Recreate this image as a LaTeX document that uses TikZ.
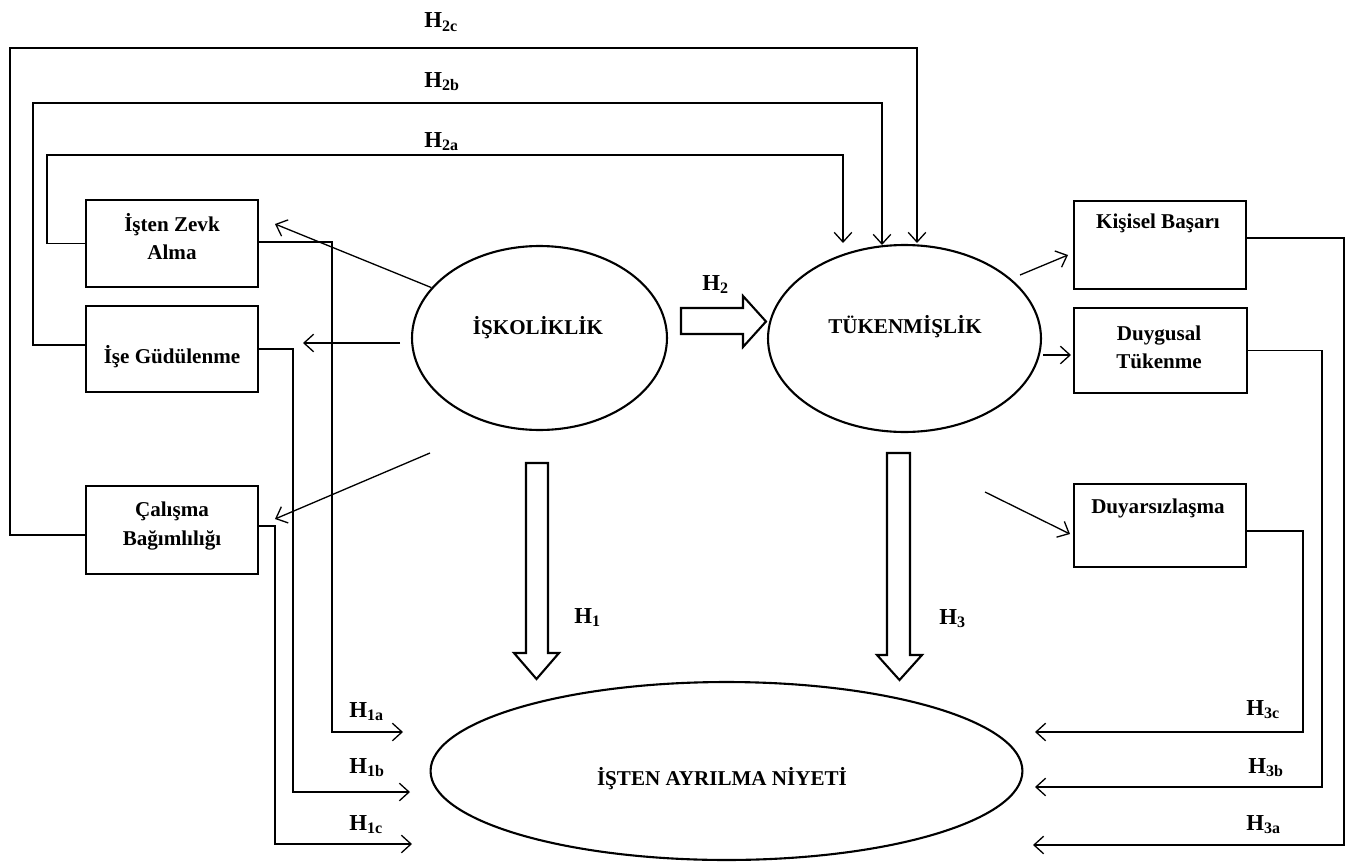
\documentclass[tikz,border=0pt]{standalone}
\usepackage{fontspec}
\setmainfont{Liberation Serif}
\usetikzlibrary{arrows.meta,shapes.geometric}
\begin{document}
\begin{tikzpicture}[x=0.02cm,y=-0.02cm,
  box/.style={draw, line width=0.9pt, minimum width=3.44cm, inner sep=0pt},
  oval/.style={draw, ellipse, line width=1.2pt, inner sep=0pt},
  lbl/.style={font=\bfseries\fontsize{12}{16}\selectfont, align=center, inner sep=0pt},
  hl/.style={font=\bfseries\fontsize{13}{15}\selectfont, anchor=base west, inner sep=0pt},
  arr/.style={line width=0.75pt, -{Straight Barb[length=5.5pt,width=10pt]}},
  block/.style={line width=1.2pt, line join=miter}
]
\useasboundingbox (0,0) rectangle (1349,862);

% boxes
\node[box, minimum height=1.74cm] (zevk) at (172,243.5) {};
\node[box, minimum height=1.72cm] (ise) at (172,349) {};
\node[box, minimum height=1.76cm] (cal) at (172,530) {};
\node[box, minimum height=1.76cm] (kis) at (1160,245) {};
\node[box, minimum height=1.70cm, minimum width=3.46cm] (duy) at (1160.5,350.5) {};
\node[box, minimum height=1.66cm] (dys) at (1160,525.5) {};

% ellipses
\node[oval, minimum width=5.10cm, minimum height=3.68cm] (isk) at (539.5,338) {};
\node[oval, minimum width=5.46cm, minimum height=3.74cm] (tuk) at (904.5,338.5) {};
\node[oval, minimum width=11.84cm, minimum height=3.56cm] (niy) at (726.5,771) {};

% texts
\node[lbl] (tisk) at (538,328) {İŞKOLİKLİK};
\node[lbl] (ttuk) at (905,327) {TÜKENMİŞLİK};
\node[lbl] (tniy) at (722,779) {İŞTEN AYRILMA NİYETİ};
\node[lbl] (tzevk) at (172,237) {İşten Zevk\\Alma};
\node[lbl] (tise) at (172,357) {İşe Güdülenme};
\node[lbl] (tcal) at (172,526) {Çalışma\\Bağımlılığı};
\node[lbl] (tkis) at (1158,223) {Kişisel Başarı};
\node[lbl] (tduy) at (1159,347) {Duygusal\\Tükenme};
\node[lbl] (tdys) at (1158,508) {Duyarsızlaşma};

% free ends
\coordinate (e2a) at (843,243);
\coordinate (e2b) at (882,245);
\coordinate (e2c) at (917,243);
\coordinate (e1a) at (403,732);
\coordinate (e1b) at (410,792);
\coordinate (e1c) at (412,844);
\coordinate (e3a) at (1033,845);
\coordinate (e3b) at (1035,787);
\coordinate (e3c) at (1035,732);
\coordinate (azevk) at (275,224);
\coordinate (sise) at (400,343);
\coordinate (aise) at (303,343);
\coordinate (scal) at (430,453);
\coordinate (acal) at (275,519);
\coordinate (skis) at (1020,275);
\coordinate (akis) at (1068,255);
\coordinate (sduy) at (1043,355);
\coordinate (aduy) at (1071,355);
\coordinate (sdys) at (985,492);
\coordinate (adys) at (1070,534);

% H2 connectors
\draw[arr] (zevk.west) -| (47,155) -| (e2a);
\draw[arr] ([yshift=0.08cm]ise.west) -| (33,103) -| (e2b);
\draw[arr] ([yshift=-0.1cm]cal.west) -| (10,48) -| (e2c);

% H1 connectors
\draw[arr] ([yshift=0.03cm]zevk.east) -| (332,732) -- (e1a);
\draw[arr] (ise.east) -| (293,792) -- (e1b);
\draw[arr] ([yshift=0.08cm]cal.east) -| (275,844) -- (e1c);

% H3 connectors
\draw[arr] ([yshift=0.14cm]kis.east) -| (1344,845) -- (e3a);
\draw[arr] (duy.east) -| (1322,787) -- (e3b);
\draw[arr] ([yshift=-0.11cm]dys.east) -| (1303,732) -- (e3c);

% dimension arrows
\draw[arr] (isk.155) -- (azevk);
\draw[arr] (sise) -- (aise);
\draw[arr] (scal) -- (acal);
\draw[arr] (skis) -- (akis);
\draw[arr] (sduy) -- (aduy);
\draw[arr] (sdys) -- (adys);

% block arrows
\draw[block] (681,308) -- (743,308) -- (743,296) -- (766,321.5) -- (743,347) -- (743,334) -- (681,334) -- cycle;
\draw[block] (526,463) -- (548,463) -- (548,653) -- (559,653) -- (536.5,679) -- (514,653) -- (526,653) -- cycle;
\draw[block] (887,453) -- (910,453) -- (910,655) -- (922,655) -- (899.5,680) -- (877,655) -- (887,655) -- cycle;

% H labels
\node[hl] (h2c) at (424,28) {H\textsubscript{2c}};
\node[hl] (h2b) at (424,87) {H\textsubscript{2b}};
\node[hl] (h2a) at (424,147) {H\textsubscript{2a}};
\node[hl] (h2) at (702,290) {H\textsubscript{2}};
\node[hl] (h1) at (574,623) {H\textsubscript{1}};
\node[hl] (h3) at (939,624) {H\textsubscript{3}};
\node[hl] (h1a) at (349,717) {H\textsubscript{1a}};
\node[hl] (h1b) at (349,773) {H\textsubscript{1b}};
\node[hl] (h1c) at (349,830) {H\textsubscript{1c}};
\node[hl] (h3c) at (1246,715) {H\textsubscript{3c}};
\node[hl] (h3b) at (1248,773) {H\textsubscript{3b}};
\node[hl] (h3a) at (1246,830) {H\textsubscript{3a}};
\end{tikzpicture}
\end{document}
